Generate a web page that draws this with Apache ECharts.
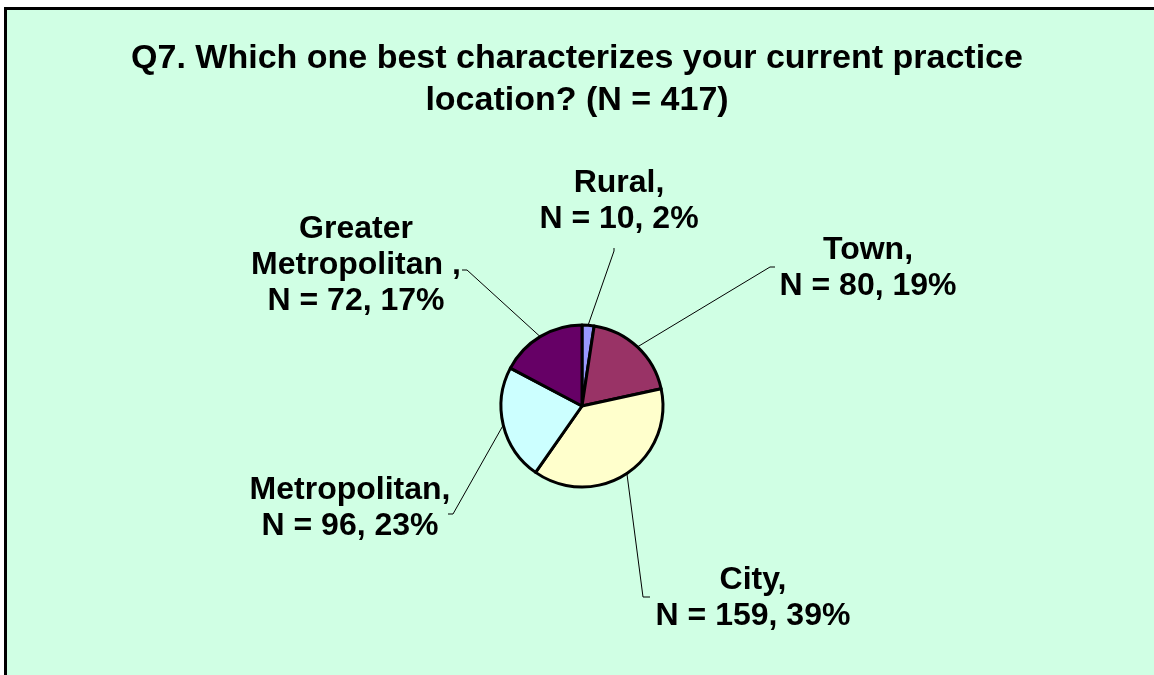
<!DOCTYPE html>
<html>
<head>
<meta charset="utf-8">
<script src="https://cdn.jsdelivr.net/npm/echarts@6/dist/echarts.min.js"></script>
<style>
  html, body { margin: 0; padding: 0; background: #ffffff; }
  #chart { width: 1154px; height: 675px; }
</style>
</head>
<body>
<div id="chart"></div>
<script>
// ---- data ----
const categories = ['Rural', 'Town', 'City', 'Metropolitan', 'Greater Metropolitan'];
const labelNames = ['Rural,', 'Town,', 'City,', 'Metropolitan,', 'Greater\nMetropolitan ,'];
const counts = [10, 80, 159, 96, 72];
const percentLabels = [2, 19, 39, 23, 17];
const titleText = 'Q7. Which one best characterizes your current practice\nlocation? (N = 417)';

// ---- styles / layout ----
const sliceColors = ['#9999FF', '#993366', '#FFFFCC', '#CCFFFF', '#660066'];
const labelPlacement = [
  { x: 619, y: 201, elbow: [614, 251], tick: [614, 248] },
  { x: 868, y: 268, elbow: [770, 267], tick: [775, 267] },
  { x: 753, y: 598, elbow: [643, 597], tick: [650, 597] },
  { x: 350, y: 508, elbow: [453, 514], tick: [448, 514] },
  { x: 356, y: 265, elbow: [467, 270], tick: [462, 270] }
];
const pieCenter = [582, 406];
const pieRadius = 81;
const font = '"Liberation Sans", Arial, sans-serif';

const chart = echarts.init(document.getElementById('chart'), null, { renderer: 'canvas' });

const total = counts.reduce((a, b) => a + b, 0);

const option = {
  backgroundColor: 'transparent',
  animation: false,
  graphic: [{
    type: 'rect',
    z: -10,
    silent: true,
    shape: { x: 5.5, y: 8.5, width: 1200, height: 700 },
    style: { fill: '#D0FFE4', stroke: '#000000', lineWidth: 3 }
  }],
  title: {
    text: titleText,
    left: 'center',
    top: 38,
    padding: 0,
    textStyle: {
      fontFamily: font,
      fontWeight: 'bold',
      fontSize: 34,
      lineHeight: 42,
      color: '#000000',
      align: 'center'
    }
  },
  series: [{
    type: 'pie',
    center: pieCenter,
    radius: pieRadius,
    startAngle: 90,
    clockwise: true,
    avoidLabelOverlap: false,
    data: categories.map((c, i) => ({
      name: c,
      value: counts[i],
      itemStyle: { color: sliceColors[i] }
    })),
    itemStyle: { borderColor: '#000000', borderWidth: 3 },
    label: {
      show: true,
      position: 'outside',
      fontFamily: font,
      fontWeight: 'bold',
      fontSize: 32,
      lineHeight: 36,
      color: '#000000',
      formatter: (p) => labelNames[p.dataIndex] + '\nN = ' + counts[p.dataIndex] + ', ' + percentLabels[p.dataIndex] + '%'
    },
    labelLine: {
      show: true,
      length: 20,
      length2: 10,
      lineStyle: { color: '#000000', width: 1 }
    },
    labelLayout: (params) => {
      const i = params.dataIndex;
      const lp = labelPlacement[i];
      let p0;
      if (params.labelLinePoints && params.labelLinePoints[0]) {
        p0 = params.labelLinePoints[0];
      } else {
        let before = 0;
        for (let k = 0; k < i; k++) before += counts[k];
        const ang = (before + counts[i] / 2) / total * 2 * Math.PI;
        p0 = [pieCenter[0] + pieRadius * Math.sin(ang), pieCenter[1] - pieRadius * Math.cos(ang)];
      }
      return {
        x: lp.x,
        y: lp.y,
        align: 'center',
        verticalAlign: 'middle',
        labelLinePoints: [p0, lp.elbow, lp.tick]
      };
    }
  }]
};

chart.setOption(option);
</script>
</body>
</html>
